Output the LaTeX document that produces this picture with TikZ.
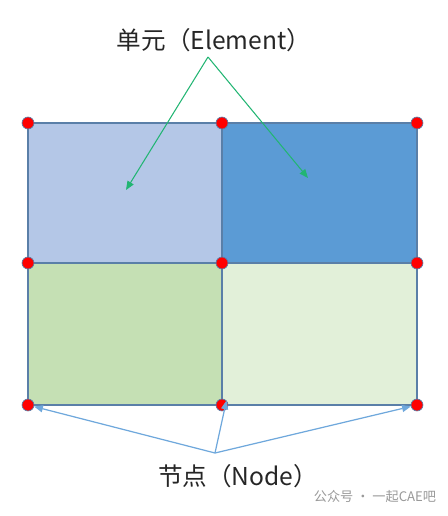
\documentclass[tikz,border=0pt]{standalone}
\usepackage{fontspec}
\setmainfont{Noto Sans CJK SC}
\usetikzlibrary{arrows.meta}
\definecolor{elemlb}{HTML}{B4C7E7}
\definecolor{elemdb}{HTML}{5B9BD5}
\definecolor{elemdg}{HTML}{C5E0B4}
\definecolor{elemlg}{HTML}{E2F0D9}
\definecolor{edgeblue}{HTML}{5A7FA8}
\definecolor{arrgreen}{HTML}{22B573}
\definecolor{arrblue}{HTML}{6FA8DC}
\tikzset{
  elem/.style={draw=edgeblue, line width=0.8pt},
  nodedot/.style={circle, fill=red, draw=edgeblue, line width=0.4pt, inner sep=0pt, minimum size=6.8pt},
  lbl/.style={font=\fontsize{14}{16}\selectfont, text=black!85},
  garrow/.style={draw=arrgreen, line width=0.6pt, -{Triangle[length=5pt,width=4pt]}},
  barrow/.style={draw=arrblue, line width=0.7pt, -{Triangle[length=5pt,width=4pt]}}
}

\begin{document}
\begin{tikzpicture}[x=0.02cm, y=-0.02cm]
		%%%%% START %%%%%
		\useasboundingbox (0, 0) rectangle (448, 516);
		
		% elements
		\draw[elem, fill=elemlb] (28, 123) rectangle (222, 263);
		\draw[elem, fill=elemdb] (222, 123) rectangle (417, 263);
		\draw[elem, fill=elemdg] (28, 263) rectangle (222, 405);
		\draw[elem, fill=elemlg] (222, 263) rectangle (417, 405);
		
		% nodes
		\node[nodedot] (n1) at (28, 123) {};
		\node[nodedot] (n2) at (222, 123) {};
		\node[nodedot] (n3) at (417, 123) {};
		\node[nodedot] (n4) at (28, 263) {};
		\node[nodedot] (n5) at (222, 263) {};
		\node[nodedot] (n6) at (417, 263) {};
		\node[nodedot] (n7) at (28, 405) {};
		\node[nodedot] (n8) at (222, 405) {};
		\node[nodedot] (n9) at (417, 405) {};
		
		% labels
		\node[lbl] (elemlabel) at (214, 40) {单元（Element）};
		\node[lbl] (nodelabel) at (238, 476) {节点（Node）};
		\node[font=\fontsize{7.5}{9}\selectfont, text=black!40] (mark) at (375, 497) {公众号 · 一起CAE吧};
		
		\coordinate (etop) at (208, 57);
		\coordinate (eleft) at (126, 190);
		\coordinate (eright) at (308, 178);
		\coordinate (nbot) at (215, 453);
		
		\draw[garrow] (etop) -- (eleft);
		\draw[garrow] (etop) -- (eright);
		
		\draw[barrow] (nbot) -- (n7);
		\draw[barrow] (nbot) -- (n8.north east);
		\draw[barrow] (nbot) -- (n9);
		
		%%%%% END %%%%%
	\end{tikzpicture}
\end{document}
